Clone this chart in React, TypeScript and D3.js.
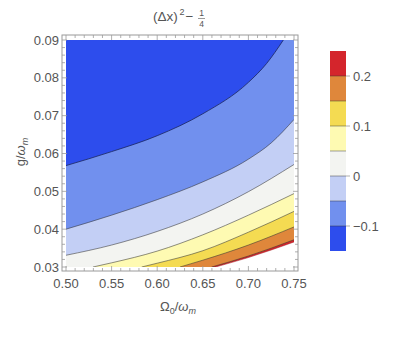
import React from 'react';
import * as d3 from 'd3';

// contour levels and the colours of the bands between them
const levels = [-0.15, -0.1, -0.05, 0, 0.05, 0.1, 0.15, 0.2, 0.25];
const bandColors = ['#2d4ded', '#7190ee', '#c3cff5', '#f3f4f1', '#fefab2', '#f4db52', '#df873b', '#d4252c'];
const legendTicks = [-0.1, 0, 0.1, 0.2];

// contour lines, as [Ω0/ωm, g/ωm]
const contourM010 = [[0.5, 0.0568], [0.55, 0.0605], [0.6, 0.0647], [0.65, 0.0705], [0.7, 0.0788], [0.72, 0.0838], [0.7383, 0.09]];
const contourM005 = [[0.5, 0.04], [0.55, 0.0437], [0.6, 0.0478], [0.65, 0.0525], [0.7, 0.0585], [0.725, 0.0628], [0.75, 0.069]];
const contour000 = [[0.5, 0.0331], [0.55, 0.0358], [0.6, 0.0394], [0.65, 0.044], [0.7, 0.0499], [0.75, 0.0571]];
const contour005 = [[0.5296, 0.03], [0.55, 0.0311], [0.6, 0.0342], [0.65, 0.0385], [0.7, 0.0437], [0.75, 0.0494]];
const contour010 = [[0.583, 0.03], [0.6, 0.031], [0.65, 0.0343], [0.7, 0.0392], [0.75, 0.0447]];
const contour015 = [[0.625, 0.03], [0.65, 0.0318], [0.7, 0.0358], [0.75, 0.0406]];
const contour020 = [[0.6597, 0.03], [0.7, 0.0329], [0.75, 0.0372]];
const contour025 = [[0.664, 0.03], [0.7, 0.0325], [0.75, 0.0366]];

const contours = [contourM010, contourM005, contour000, contour005, contour010, contour015, contour020, contour025];

const xDomain = [0.5, 0.75];
const yDomain = [0.03, 0.09];

const W = 395;
const H = 354;
const font = '"Liberation Sans", Arial, sans-serif';
const textColor = '#555';
const frameColor = '#9a9a9a';

export default function App() {
  const x = d3.scaleLinear().domain(xDomain).range([66, 294]);
  const y = d3.scaleLinear().domain(yDomain).range([267, 40]);
  const cb = d3.scaleLinear().domain([levels[0], levels[levels.length - 1]]).range([251, 51]);

  const frame = { left: 62, right: 298, top: 35, bottom: 271 };

  const line = d3
    .line<number[]>()
    .x((d) => x(d[0]))
    .y((d) => y(d[1]))
    .curve(d3.curveMonotoneX);

  // area on the high-value side of a contour (towards the lower right corner)
  const region = (pts: number[][]) => {
    const first = pts[0];
    const last = pts[pts.length - 1];
    const corners: number[][] = [];
    if (last[1] >= yDomain[1]) corners.push([xDomain[1], yDomain[1]]);
    corners.push([xDomain[1], yDomain[0]]);
    if (first[0] <= xDomain[0]) corners.push([xDomain[0], yDomain[0]]);
    return line(pts) + corners.map((c) => `L${x(c[0])},${y(c[1])}`).join('') + 'Z';
  };

  const xMajor = x.ticks(5);
  const xMinor = x.ticks(25).filter((t) => !xMajor.some((m) => Math.abs(m - t) < 1e-9));
  const yMajor = y.ticks(6);
  const yMinor = y.ticks(30).filter((t) => !yMajor.some((m) => Math.abs(m - t) < 1e-9));
  const fmt = d3.format('.2f');

  const major = 5;
  const minor = 3;

  const strokeFor = (i: number) => (i === 0 ? '#1a2560' : i === 7 ? '#9a1018' : '#333');
  const opacityFor = (i: number) => (i === 0 ? 0.8 : i === 7 ? 0.6 : 0.55);

  return (
    <svg width={W} height={H} style={{ position: 'absolute', left: 0, top: 0, background: '#fff' }}>
      <defs>
        <clipPath id="plot-clip">
          <rect x={x(xDomain[0])} y={y(yDomain[1])} width={x(xDomain[1]) - x(xDomain[0])} height={y(yDomain[0]) - y(yDomain[1])} />
        </clipPath>
      </defs>

      {/* title */}
      <g fontFamily={font} fill={textColor}>
        <text x={153} y={21} fontSize={13.5}>
          (Δx)
        </text>
        <text x={179.5} y={15} fontSize={9}>
          2
        </text>
        <text x={185.5} y={21} fontSize={13.5}>
          −
        </text>
        <text x={201.5} y={16} fontSize={8.5} textAnchor="middle">
          1
        </text>
        <line x1={198} x2={205} y1={18.5} y2={18.5} stroke={textColor} strokeWidth={0.6} />
        <text x={201.5} y={27} fontSize={8.5} textAnchor="middle">
          4
        </text>
      </g>

      {/* contour bands */}
      <g clipPath="url(#plot-clip)">
        <rect x={x(xDomain[0])} y={y(yDomain[1])} width={x(xDomain[1]) - x(xDomain[0])} height={y(yDomain[0]) - y(yDomain[1])} fill={bandColors[0]} />
        {contours.map((c, i) => (
          <path key={i} d={region(c)} fill={i + 1 < bandColors.length ? bandColors[i + 1] : '#fff'} />
        ))}
        {contours.map((c, i) => (
          <path key={'l' + i} d={line(c) || ''} fill="none" stroke={strokeFor(i)} strokeOpacity={opacityFor(i)} strokeWidth={i === 7 ? 0.8 : 1} />
        ))}
      </g>

      {/* frame and ticks */}
      <rect x={frame.left} y={frame.top} width={frame.right - frame.left} height={frame.bottom - frame.top} fill="none" stroke={frameColor} strokeWidth={1} />
      <g stroke={frameColor} strokeWidth={0.8}>
        {xMajor.map((t) => (
          <g key={'xM' + t}>
            <line x1={x(t)} x2={x(t)} y1={frame.bottom} y2={frame.bottom - major} />
            <line x1={x(t)} x2={x(t)} y1={frame.top} y2={frame.top + major} />
          </g>
        ))}
        {xMinor.map((t) => (
          <g key={'xm' + t}>
            <line x1={x(t)} x2={x(t)} y1={frame.bottom} y2={frame.bottom - minor} />
            <line x1={x(t)} x2={x(t)} y1={frame.top} y2={frame.top + minor} />
          </g>
        ))}
        {yMajor.map((t) => (
          <g key={'yM' + t}>
            <line x1={frame.left} x2={frame.left + major} y1={y(t)} y2={y(t)} />
            <line x1={frame.right} x2={frame.right - major} y1={y(t)} y2={y(t)} />
          </g>
        ))}
        {yMinor.map((t) => (
          <g key={'ym' + t}>
            <line x1={frame.left} x2={frame.left + minor} y1={y(t)} y2={y(t)} />
            <line x1={frame.right} x2={frame.right - minor} y1={y(t)} y2={y(t)} />
          </g>
        ))}
      </g>

      {/* tick labels */}
      <g fontFamily={font} fontSize={13} fill={textColor}>
        {xMajor.map((t) => (
          <text key={'xl' + t} x={x(t)} y={frame.bottom + 17} textAnchor="middle">
            {fmt(t)}
          </text>
        ))}
        {yMajor.map((t) => (
          <text key={'yl' + t} x={frame.left - 3} y={y(t)} dy="0.35em" textAnchor="end">
            {fmt(t)}
          </text>
        ))}
      </g>

      {/* axis labels */}
      <text x={178} y={311} fontFamily={font} fontSize={13} fill={textColor} textAnchor="middle">
        Ω<tspan fontSize={9} dy={3}>0</tspan>
        <tspan dy={-3}>/</tspan>
        <tspan fontStyle="italic">ω</tspan>
        <tspan fontSize={9} fontStyle="italic" dy={3}>m</tspan>
      </text>
      <text transform="translate(25,152) rotate(-90)" fontFamily={font} fontSize={13} fill={textColor} textAnchor="middle">
        g/<tspan fontStyle="italic">ω</tspan>
        <tspan fontSize={9} fontStyle="italic" dy={3}>m</tspan>
      </text>

      {/* colour bar */}
      <g>
        {bandColors.map((c, i) => (
          <rect key={'cb' + i} x={330} y={cb(levels[i + 1])} width={16} height={cb(levels[i]) - cb(levels[i + 1])} fill={c} />
        ))}
        {levels.slice(1, -1).map((l) => (
          <line key={'cbl' + l} x1={330} x2={346} y1={cb(l)} y2={cb(l)} stroke="#333" strokeOpacity={0.45} strokeWidth={1} />
        ))}
        {legendTicks.map((t) => (
          <g key={'cbt' + t}>
            <line x1={346} x2={350} y1={cb(t)} y2={cb(t)} stroke={frameColor} strokeWidth={0.8} />
            <text x={353} y={cb(t)} dy="0.35em" fontFamily={font} fontSize={13} fill={textColor}>
              {t === 0 ? '0' : d3.format('.1f')(t).replace('-', '−')}
            </text>
          </g>
        ))}
      </g>
    </svg>
  );
}
